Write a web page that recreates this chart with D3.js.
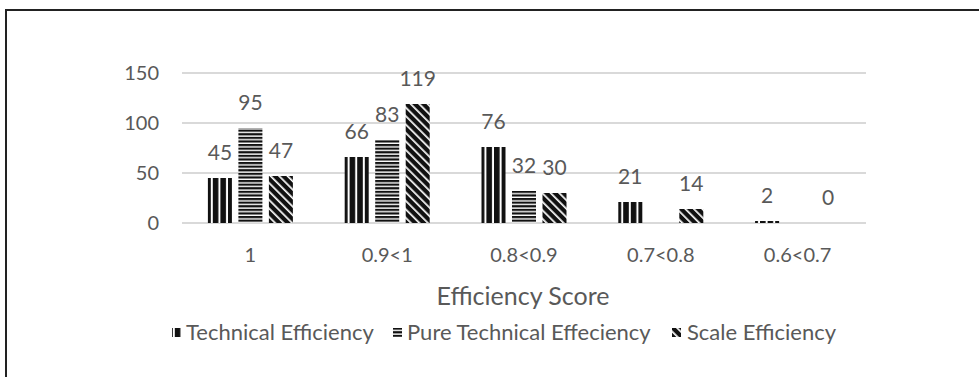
<!DOCTYPE html>
<html><head><meta charset="utf-8">
<script src="https://cdn.jsdelivr.net/npm/d3@7"></script>
<style>body{margin:0;background:#fff}svg{display:block}text{font-family:Lato,"Open Sans",sans-serif;fill:#595959}</style>
</head><body>
<svg id="c" width="979" height="377"></svg>
<script>
(function(){
const categories = ["1","0.9<1","0.8<0.9","0.7<0.8","0.6<0.7"];
const seriesNames = ["Technical Efficiency","Pure Technical Effeciency","Scale Efficiency"];
const technical = [45,66,76,21,2];
const pureTechnical = [95,83,32,null,null];
const scale = [47,119,30,14,0];
const yTicks = [0,50,100,150];
const axisTitle = "Efficiency Score";

const svg = d3.select("#c");
const defs = svg.append("defs");
const p1 = defs.append("pattern").attr("id","pTE").attr("patternUnits","userSpaceOnUse").attr("width",7.6).attr("height",10);
p1.append("rect").attr("width",7.6).attr("height",10).attr("fill","#fff");
p1.append("rect").attr("x",0).attr("width",5.6).attr("height",10).attr("fill","#111");
const p2 = defs.append("pattern").attr("id","pPTE").attr("patternUnits","userSpaceOnUse").attr("width",10).attr("height",3.6);
p2.append("rect").attr("width",10).attr("height",3.6).attr("fill","#fff");
p2.append("rect").attr("y",0).attr("width",10).attr("height",2.2).attr("fill","#111");
const p3 = defs.append("pattern").attr("id","pSE").attr("patternUnits","userSpaceOnUse").attr("width",6).attr("height",6).attr("patternTransform","rotate(45)");
p3.append("rect").attr("width",6).attr("height",6).attr("fill","#fff");
p3.append("rect").attr("width",6).attr("height",4.3).attr("fill","#111");
const fills = ["url(#pTE)","url(#pPTE)","url(#pSE)"];

svg.append("rect").attr("x",6).attr("y",10).attr("width",990).attr("height",400).attr("fill","none").attr("stroke","#222").attr("stroke-width",2);

const mLeft = 182, mRight = 866, mTop = 73, mBottom = 223;
const groupW = 85;
const x = d3.scaleBand().domain(categories).range([mLeft,mRight]).paddingInner(0).paddingOuter(0);
const y = d3.scaleLinear().domain([0,150]).range([mBottom,mTop]);
const x1 = d3.scaleBand().domain([0,1,2]).range([0,groupW]).paddingInner(0.213).paddingOuter(0);
const off = (x.bandwidth()-groupW)/2;

svg.append("g").selectAll("line").data(yTicks).join("line")
  .attr("x1",mLeft).attr("x2",mRight).attr("y1",d=>y(d)).attr("y2",d=>y(d))
  .attr("stroke","#d9d9d9").attr("stroke-width",2);
const yAxis = svg.append("g").attr("transform",`translate(${mLeft},0)`)
  .call(d3.axisLeft(y).tickValues(yTicks).tickSize(0).tickPadding(23));
yAxis.select(".domain").remove();
yAxis.selectAll("text").attr("font-size",20).attr("fill","#595959").attr("font-family","Lato");

const series = [technical,pureTechnical,scale];
series.forEach((vals,si)=>{
  const g = svg.append("g");
  const data = categories.map((c,i)=>({c,v:vals[i]})).filter(d=>d.v!==null);
  g.selectAll("rect").data(data).join("rect")
    .attr("x",d=>x(d.c)+off+x1(si)).attr("width",x1.bandwidth())
    .attr("y",d=>y(d.v)).attr("height",d=>mBottom-y(d.v)).attr("fill",fills[si]);
  g.selectAll("text").data(data).join("text")
    .attr("x",d=>x(d.c)+off+x1(si)+x1.bandwidth()/2).attr("y",d=>y(d.v)-18)
    .attr("text-anchor","middle").attr("font-size",21).text(d=>d.v);
});
svg.append("g").selectAll("text").data(categories).join("text")
  .attr("x",d=>x(d)+x.bandwidth()/2).attr("y",262).attr("text-anchor","middle").attr("font-size",20).text(d=>d);
svg.append("text").attr("x",(mLeft+mRight)/2 - 1).attr("y",305).attr("text-anchor","middle").attr("font-size",25).text(axisTitle);

const legX = [172,393,672];
const txtOff = [14,14,15];
const lg = svg.append("g");
seriesNames.forEach((n,i)=>{
  lg.append("rect").attr("x",legX[i]).attr("y",328).attr("width",9).attr("height",9).attr("fill",fills[i]);
  lg.append("text").attr("x",legX[i]+txtOff[i]).attr("y",340).attr("font-size",22).text(n);
});
})();
</script>
</body></html>
